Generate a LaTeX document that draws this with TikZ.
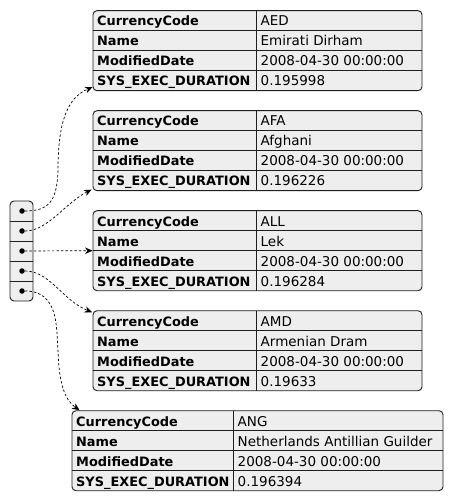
\documentclass[tikz,border=0pt]{standalone}
\usepackage{fontspec}
\setmainfont{DejaVu Sans}
\usetikzlibrary{arrows.meta,fit}

\definecolor{tablefill}{HTML}{EEEEEE}
\definecolor{tableedge}{HTML}{1E1E1E}

\tikzset{
  tablebox/.style={draw=tableedge, fill=tablefill, line width=0.9pt, rounded corners=4pt, inner sep=0pt},
  tableline/.style={draw=tableedge, line width=0.8pt},
  keytext/.style={anchor=base west, inner sep=0pt, font=\fontsize{12.9}{14}\selectfont\bfseries},
  valtext/.style={anchor=base west, inner sep=0pt, font=\fontsize{13.5}{15}\selectfont},
  dotmark/.style={circle, fill=black, inner sep=0pt, minimum size=5.5pt},
  ptrarrow/.style={draw=black, line width=0.7pt, dash pattern=on 2.5pt off 2pt, -{Stealth[length=7.5pt,width=6.5pt]}}
}

% #1 name, #2 left, #3 divider, #4 right, #5 top, #6 code, #7 currency, #8 date, #9 duration
\newcommand{\currtable}[9]{
  \node[tablebox, fit={(#2,#5) (#4,#5+80)}] (#1) {};
  \draw[tableline] (#3,#5) -- (#3,#5+80);
  \foreach \k in {1,2,3}
    \draw[tableline] (#2,#5+20*\k) -- (#4,#5+20*\k);
  \node[keytext] (#1k1) at (#2+4,#5+15.3) {CurrencyCode};
  \node[keytext] (#1k2) at (#2+4,#5+35.3) {Name};
  \node[keytext] (#1k3) at (#2+4,#5+55.3) {ModifiedDate};
  \node[keytext] (#1k4) at (#2+4,#5+75.3) {SYS\_EXEC\_DURATION};
  \node[valtext] (#1v1) at (#3+4.5,#5+15.3) {#6};
  \node[valtext] (#1v2) at (#3+4.5,#5+35.3) {#7};
  \node[valtext] (#1v3) at (#3+4.5,#5+55.3) {#8};
  \node[valtext] (#1v4) at (#3+4.5,#5+75.3) {#9};
}

\begin{document}
\begin{tikzpicture}[x=1pt, y=-1pt]
\useasboundingbox (0,0) rectangle (454,502);

\def\xl{93};
\def\xd{256};
\def\xr{422};

% the list of pointers
\node[tablebox, fit={(10,201) (33,301)}] (arr) {};
\foreach \k in {1,2,3,4}
  \draw[tableline] (10,201+20*\k) -- (33,201+20*\k);
\node[dotmark] (c1) at (22,211) {};
\node[dotmark] (c2) at (22,231) {};
\node[dotmark] (c3) at (22,251) {};
\node[dotmark] (c4) at (22,271) {};
\node[dotmark] (c5) at (22,291) {};

% the records
\currtable{t1}{\xl}{\xd}{\xr}{10.7}{AED}{Emirati Dirham}{2008-04-30 00:00:00}{0.195998}
\currtable{t2}{\xl}{\xd}{\xr}{110.7}{AFA}{Afghani}{2008-04-30 00:00:00}{0.196226}
\currtable{t3}{\xl}{\xd}{\xr}{210.7}{ALL}{Lek}{2008-04-30 00:00:00}{0.196284}
\currtable{t4}{\xl}{\xd}{\xr}{310.7}{AMD}{Armenian Dram}{2008-04-30 00:00:00}{0.19633}
\currtable{t5}{72}{233}{443}{410.7}{ANG}{Netherlands Antillian Guilder}{2008-04-30 00:00:00}{0.196394}

% pointers
\draw[ptrarrow] (c1) .. controls (50,211) and (57,200) .. (58,170)
  .. controls (58,125) and (66,98) .. ([yshift=4pt]t1.south west);
\draw[ptrarrow] (c2) .. controls (48,231) and (65,203) .. ([xshift=-1pt,yshift=1.5pt]t2.south west);
\draw[ptrarrow] (c3) -- (t3.west);
\draw[ptrarrow] (c4) .. controls (50,271) and (62,300) .. ([xshift=-0.5pt,yshift=-2pt]t4.north west);
\draw[ptrarrow] (c5) .. controls (60,291) and (56,330) .. (58,350)
  .. controls (59,385) and (65,400) .. ([xshift=8pt]t5.north west);

\end{tikzpicture}
\end{document}
